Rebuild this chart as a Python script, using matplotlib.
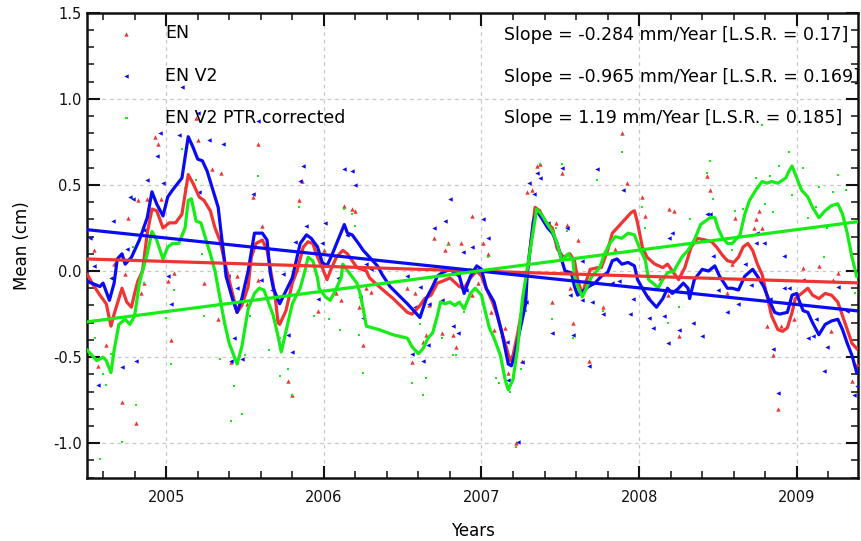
import matplotlib
matplotlib.use('Agg')
import matplotlib.pyplot as plt
from matplotlib.ticker import MultipleLocator, FormatStrFormatter

plt.rcParams['font.family'] = ['DejaVu Sans']
plt.rcParams['axes.unicode_minus'] = False

RED = '#f03434'
BLUE = '#0a0af5'
GREEN = '#16ec16'

series_names = ['EN', 'EN V2', 'EN V2 PTR corrected']
slopes_mm = [-0.284, -0.965, 1.19]
lsr = ['0.17', '0.169', '0.185']
trend_start = [0.07, 0.24, -0.295]   # trend value (cm) at the left edge
x_limits = [2004.5, 2009.39]

# ---------------- scatter points ----------------
en_x = [2004.54, 2004.57, 2004.62, 2004.67, 2004.72, 2004.74, 2004.76, 2004.81, 2004.82, 2004.84,
        2004.86, 2004.88, 2004.93, 2004.95, 2004.97, 2005.01, 2005.03, 2005.05, 2005.19, 2005.20,
        2005.24, 2005.29, 2005.33, 2005.35, 2005.41, 2005.45, 2005.51, 2005.55, 2005.58, 2005.58,
        2005.61, 2005.70, 2005.77, 2005.80, 2005.84, 2005.86, 2005.96, 2006.00, 2006.08, 2006.11,
        2006.13, 2006.18, 2006.20, 2006.22, 2006.25, 2006.27, 2006.30, 2006.53, 2006.56, 2006.58,
        2006.63, 2006.65, 2006.67, 2006.70, 2006.75, 2006.77, 2006.79, 2006.82, 2006.84, 2006.87,
        2006.94, 2006.94, 2006.98, 2007.01, 2007.04, 2007.06, 2007.08, 2007.13, 2007.15, 2007.17,
        2007.22, 2007.26, 2007.27, 2007.29, 2007.32, 2007.35, 2007.37, 2007.45, 2007.47, 2007.51,
        2007.54, 2007.56, 2007.58, 2007.61, 2007.68, 2007.77, 2007.85, 2007.89, 2007.92, 2008.02,
        2008.04, 2008.06, 2008.13, 2008.18, 2008.19, 2008.22, 2008.25, 2008.43, 2008.45, 2008.56,
        2008.59, 2008.61, 2008.73, 2008.74, 2008.76, 2008.78, 2008.81, 2008.85, 2008.88, 2008.90,
        2008.98, 2009.04, 2009.14, 2009.22, 2009.23, 2009.26, 2009.35, 2009.38]
en_y = [0.12, -0.55, -0.43, 0.04, -0.76, -0.02, 0.31, -0.88, 0.41, -0.13,
        -0.07, 0.42, 0.78, 0.74, 0.42, -0.06, -0.40, -0.01, 0.89, 0.76,
        -0.07, 0.59, -0.28, 0.57, -0.53, -0.03, -0.19, 0.43, 0.74, -0.05,
        0.26, -0.27, -0.64, -0.72, 0.41, 0.52, -0.23, 0.12, -0.13, -0.17,
        0.38, 0.36, 0.35, -0.21, -0.43, -0.10, -0.12, -0.10, -0.53, -0.13,
        -0.41, -0.37, -0.20, 0.19, -0.36, 0.12, 0.16, -0.37, -0.44, 0.16,
        0.32, -0.14, -0.07, 0.16, 0.10, -0.24, -0.34, -0.37, -0.33, -0.59,
        -1.00, -0.52, -0.21, 0.46, 0.47, 0.61, 0.62, -0.18, 0.28, 0.57,
        0.27, -0.10, -0.30, 0.18, -0.52, -0.21, 0.13, 0.80, 0.51, 0.43,
        0.32, -0.15, -0.04, -0.14, 0.36, 0.35, -0.38, 0.55, 0.47, -0.13,
        0.04, 0.31, 0.25, 0.30, 0.35, 0.25, -0.32, -0.49, -0.80, -0.32,
        -0.28, 0.02, 0.03, -0.35, -0.05, -0.01, -0.64, -0.54]

v2_x = [2004.52, 2004.54, 2004.57, 2004.65, 2004.66, 2004.72, 2004.75, 2004.77, 2004.79, 2004.81,
        2004.86, 2004.88, 2004.94, 2004.96, 2004.98, 2005.01, 2005.03, 2005.08, 2005.10, 2005.20,
        2005.21, 2005.27, 2005.36, 2005.39, 2005.41, 2005.43, 2005.45, 2005.48, 2005.55, 2005.58,
        2005.60, 2005.67, 2005.74, 2005.77, 2005.80, 2005.82, 2005.85, 2005.87, 2005.89, 2005.96,
        2005.99, 2006.01, 2006.09, 2006.13, 2006.15, 2006.18, 2006.20, 2006.23, 2006.25, 2006.27,
        2006.30, 2006.53, 2006.56, 2006.58, 2006.61, 2006.63, 2006.66, 2006.67, 2006.70, 2006.75,
        2006.77, 2006.80, 2006.82, 2006.85, 2006.88, 2006.90, 2006.94, 2007.01, 2007.04, 2007.16,
        2007.17, 2007.23, 2007.26, 2007.28, 2007.30, 2007.33, 2007.35, 2007.37, 2007.42, 2007.45,
        2007.51, 2007.54, 2007.56, 2007.58, 2007.64, 2007.64, 2007.68, 2007.70, 2007.73, 2007.77,
        2007.83, 2007.87, 2007.90, 2007.94, 2007.96, 2008.06, 2008.09, 2008.16, 2008.18, 2008.19,
        2008.21, 2008.25, 2008.34, 2008.40, 2008.43, 2008.45, 2008.47, 2008.50, 2008.56, 2008.63,
        2008.67, 2008.71, 2008.74, 2008.75, 2008.79, 2008.83, 2008.85, 2008.88, 2008.92, 2008.92,
        2008.95, 2009.04, 2009.07, 2009.10, 2009.12, 2009.17, 2009.19, 2009.26, 2009.32, 2009.36,
        2009.38]
v2_y = [0.19, 0.03, -0.66, -0.04, 0.29, -0.56, 0.13, 0.43, 0.42, -0.52,
        0.24, 0.53, 0.67, 0.80, 0.51, -0.03, -0.19, 0.79, 1.07, 0.92,
        0.46, 0.76, 0.74, -0.03, -0.52, -0.39, -0.10, -0.51, 0.45, 0.87,
        -0.05, -0.11, -0.02, -0.37, -0.47, 0.17, 0.52, 0.61, 0.26, -0.16,
        0.16, 0.28, -0.04, 0.59, 0.21, 0.58, 0.50, -0.15, -0.27, 0.04,
        0.01, -0.03, -0.48, -0.21, -0.09, -0.52, -0.43, -0.19, 0.25, -0.17,
        0.29, 0.42, -0.32, -0.36, 0.11, -0.11, 0.14, 0.30, 0.19, -0.41,
        -0.63, -0.99, -0.53, -0.18, 0.51, 0.45, 0.57, 0.54, 0.28, -0.36,
        0.60, 0.25, -0.14, -0.37, 0.06, -0.17, -0.55, -0.18, 0.59, -0.25,
        -0.07, -0.06, 0.47, -0.25, -0.16, -0.27, -0.33, -0.26, -0.42, 0.19,
        0.22, -0.34, -0.30, -0.38, 0.33, 0.33, 0.09, -0.11, -0.24, -0.19,
        0.04, -0.08, 0.16, 0.22, 0.16, -0.16, -0.45, -0.71, 0.09, -0.10,
        -0.10, -0.05, -0.39, -0.38, -0.28, -0.58, -0.44, -0.09, -0.23, -0.72,
        -0.67]

ptr_x = [2004.55, 2004.58, 2004.60, 2004.62, 2004.65, 2004.72, 2004.75, 2004.79, 2004.81, 2004.86,
         2004.89, 2005.00, 2005.03, 2005.05, 2005.10, 2005.12, 2005.19, 2005.23, 2005.24, 2005.34,
         2005.41, 2005.43, 2005.48, 2005.50, 2005.53, 2005.58, 2005.65, 2005.68, 2005.72, 2005.72,
         2005.77, 2005.80, 2005.84, 2005.94, 2006.03, 2006.10, 2006.13, 2006.18, 2006.20, 2006.22,
         2006.25, 2006.56, 2006.61, 2006.63, 2006.65, 2006.75, 2006.79, 2006.82, 2006.84, 2006.89,
         2006.93, 2007.04, 2007.09, 2007.11, 2007.18, 2007.22, 2007.25, 2007.28, 2007.37, 2007.45,
         2007.47, 2007.51, 2007.54, 2007.58, 2007.73, 2007.77, 2007.89, 2008.02, 2008.04, 2008.18,
         2008.25, 2008.32, 2008.43, 2008.45, 2008.47, 2008.59, 2008.61, 2008.66, 2008.74, 2008.78,
         2008.80, 2008.83, 2008.85, 2008.89, 2008.95, 2008.97, 2009.04, 2009.07, 2009.12, 2009.14,
         2009.17, 2009.19, 2009.23, 2009.26, 2009.31, 2009.37]
ptr_y = [-0.39, -1.09, -0.60, -0.66, -0.48, -0.99, 0.89, 0.14, -0.78, -0.07,
         0.31, -0.27, -0.54, -0.11, 0.71, 0.48, 0.53, 0.10, -0.26, -0.51,
         -0.87, -0.67, -0.83, -0.49, -0.26, 0.55, -0.46, -0.27, -0.39, -0.61,
         -0.57, -0.72, 0.37, -0.26, -0.28, -0.34, 0.36, 0.33, 0.26, -0.37,
         -0.59, -0.65, -0.31, -0.72, -0.62, -0.39, 0.15, -0.49, -0.49, -0.24,
         0.01, 0.08, -0.62, -0.65, -0.70, -1.02, -0.57, -0.23, 0.62, -0.28,
         0.25, 0.62, 0.23, -0.39, 0.53, -0.23, 0.69, 0.37, 0.25, -0.30,
         -0.21, 0.30, 0.57, 0.64, 0.42, 0.12, 0.35, 0.36, 0.54, 0.85,
         0.39, 0.55, 0.34, 0.61, 0.69, 0.44, 0.60, 0.31, 0.37, 0.49,
         0.08, 0.25, 0.46, 0.56, 0.47, -0.13]

# ---------------- smoothed curves ----------------
en_s_x = [2004.50, 2004.53, 2004.58, 2004.62, 2004.65, 2004.67, 2004.70, 2004.72, 2004.75, 2004.78,
          2004.80, 2004.82, 2004.85, 2004.88, 2004.91, 2004.94, 2004.98, 2005.02, 2005.06, 2005.10,
          2005.13, 2005.14, 2005.17, 2005.21, 2005.24, 2005.28, 2005.31, 2005.34, 2005.36, 2005.38,
          2005.42, 2005.45, 2005.48, 2005.52, 2005.54, 2005.57, 2005.61, 2005.64, 2005.66, 2005.69,
          2005.71, 2005.72, 2005.76, 2005.80, 2005.83, 2005.87, 2005.90, 2005.93, 2005.96, 2005.99,
          2006.02, 2006.05, 2006.08, 2006.12, 2006.15, 2006.18, 2006.21, 2006.27, 2006.29, 2006.35,
          2006.44, 2006.53, 2006.56, 2006.61, 2006.64, 2006.68, 2006.72, 2006.75, 2006.80, 2006.86,
          2006.89, 2006.93, 2006.97, 2007.00, 2007.03, 2007.07, 2007.10, 2007.13, 2007.16, 2007.18,
          2007.20, 2007.23, 2007.27, 2007.29, 2007.34, 2007.37, 2007.40, 2007.45, 2007.48, 2007.52,
          2007.56, 2007.59, 2007.61, 2007.64, 2007.66, 2007.69, 2007.74, 2007.76, 2007.80, 2007.83,
          2007.86, 2007.92, 2007.95, 2007.97, 2007.99, 2008.02, 2008.05, 2008.10, 2008.15, 2008.18,
          2008.25, 2008.29, 2008.33, 2008.37, 2008.42, 2008.46, 2008.49, 2008.53, 2008.56, 2008.60,
          2008.63, 2008.66, 2008.69, 2008.72, 2008.75, 2008.78, 2008.81, 2008.84, 2008.88, 2008.91,
          2008.94, 2008.97, 2008.99, 2009.03, 2009.07, 2009.10, 2009.14, 2009.18, 2009.22, 2009.26,
          2009.29, 2009.32, 2009.35, 2009.38]
en_s_y = [-0.02, -0.07, -0.14, -0.19, -0.32, -0.25, -0.16, -0.10, -0.18, -0.21,
          -0.13, -0.06, 0.00, 0.22, 0.36, 0.35, 0.25, 0.28, 0.28, 0.33,
          0.50, 0.56, 0.51, 0.43, 0.41, 0.35, 0.25, 0.18, 0.10, 0.02,
          -0.13, -0.24, -0.20, -0.09, 0.08, 0.16, 0.18, 0.12, 0.02, -0.14,
          -0.30, -0.31, -0.23, -0.07, 0.00, 0.14, 0.17, 0.16, 0.08, 0.02,
          -0.05, 0.02, 0.08, 0.12, 0.10, 0.06, 0.02, 0.00, -0.04, -0.09,
          -0.16, -0.24, -0.25, -0.20, -0.16, -0.14, -0.07, -0.06, -0.04, -0.09,
          -0.10, -0.04, 0.00, -0.03, -0.10, -0.18, -0.26, -0.36, -0.45, -0.52,
          -0.49, -0.36, -0.16, 0.00, 0.37, 0.35, 0.29, 0.25, 0.13, 0.08,
          0.10, 0.06, -0.05, -0.14, -0.07, 0.01, 0.02, 0.02, 0.12, 0.22,
          0.25, 0.31, 0.34, 0.35, 0.28, 0.14, 0.08, 0.04, 0.02, 0.04,
          -0.05, 0.02, 0.14, 0.19, 0.18, 0.17, 0.14, 0.09, 0.06, 0.05,
          0.08, 0.14, 0.16, 0.12, 0.04, -0.02, -0.14, -0.26, -0.34, -0.35,
          -0.33, -0.24, -0.16, -0.13, -0.10, -0.14, -0.16, -0.13, -0.14, -0.18,
          -0.26, -0.34, -0.42, -0.45]

v2_s_x = [2004.50, 2004.58, 2004.60, 2004.64, 2004.67, 2004.69, 2004.72, 2004.74, 2004.78, 2004.81,
          2004.83, 2004.88, 2004.91, 2004.94, 2004.98, 2005.01, 2005.04, 2005.10, 2005.13, 2005.14,
          2005.17, 2005.20, 2005.23, 2005.26, 2005.29, 2005.33, 2005.35, 2005.37, 2005.38, 2005.42,
          2005.45, 2005.48, 2005.52, 2005.56, 2005.61, 2005.64, 2005.66, 2005.68, 2005.72, 2005.80,
          2005.85, 2005.89, 2005.92, 2005.96, 2005.99, 2006.02, 2006.05, 2006.09, 2006.13, 2006.15,
          2006.18, 2006.22, 2006.25, 2006.29, 2006.34, 2006.37, 2006.42, 2006.53, 2006.61, 2006.65,
          2006.69, 2006.72, 2006.75, 2006.80, 2006.86, 2006.89, 2006.93, 2006.97, 2007.00, 2007.03,
          2007.08, 2007.13, 2007.17, 2007.19, 2007.21, 2007.24, 2007.28, 2007.29, 2007.33, 2007.35,
          2007.38, 2007.42, 2007.45, 2007.48, 2007.51, 2007.53, 2007.57, 2007.59, 2007.61, 2007.68,
          2007.72, 2007.76, 2007.80, 2007.83, 2007.86, 2007.89, 2007.93, 2007.97, 2007.99, 2008.02,
          2008.06, 2008.11, 2008.15, 2008.18, 2008.21, 2008.25, 2008.28, 2008.31, 2008.32, 2008.35,
          2008.40, 2008.44, 2008.48, 2008.51, 2008.56, 2008.59, 2008.63, 2008.67, 2008.72, 2008.75,
          2008.79, 2008.82, 2008.86, 2008.89, 2008.94, 2008.97, 2009.00, 2009.01, 2009.04, 2009.07,
          2009.10, 2009.14, 2009.18, 2009.22, 2009.26, 2009.29, 2009.32, 2009.35, 2009.38]
v2_s_y = [-0.06, -0.09, -0.07, -0.17, -0.07, 0.07, 0.10, 0.04, 0.08, 0.14,
          0.18, 0.31, 0.46, 0.39, 0.32, 0.43, 0.47, 0.54, 0.72, 0.78,
          0.72, 0.65, 0.64, 0.58, 0.49, 0.37, 0.21, 0.06, -0.03, -0.16,
          -0.24, -0.16, 0.00, 0.22, 0.22, 0.18, -0.01, -0.10, -0.19, -0.04,
          0.16, 0.21, 0.19, 0.14, 0.05, 0.03, 0.09, 0.18, 0.27, 0.22,
          0.21, 0.16, 0.12, 0.08, 0.03, -0.02, -0.09, -0.19, -0.27, -0.16,
          -0.09, -0.03, -0.01, 0.01, -0.03, -0.13, -0.03, 0.03, 0.01, -0.10,
          -0.18, -0.36, -0.54, -0.55, -0.49, -0.36, -0.19, -0.02, 0.29, 0.35,
          0.31, 0.25, 0.22, 0.16, 0.06, 0.00, -0.01, -0.09, -0.14, -0.09,
          -0.07, -0.03, -0.01, 0.06, 0.07, 0.04, 0.05, 0.03, -0.05, -0.10,
          -0.16, -0.21, -0.16, -0.10, -0.13, -0.10, -0.07, -0.10, -0.16, -0.05,
          0.01, 0.00, 0.03, -0.03, -0.10, -0.10, -0.11, -0.03, 0.01, -0.03,
          -0.09, -0.16, -0.24, -0.25, -0.24, -0.14, -0.13, -0.16, -0.23, -0.24,
          -0.30, -0.37, -0.31, -0.29, -0.28, -0.34, -0.42, -0.49, -0.59]

ptr_s_x = [2004.50, 2004.53, 2004.56, 2004.60, 2004.62, 2004.65, 2004.67, 2004.70, 2004.74, 2004.77,
           2004.80, 2004.83, 2004.85, 2004.88, 2004.91, 2004.94, 2004.98, 2005.01, 2005.04, 2005.08,
           2005.12, 2005.14, 2005.16, 2005.19, 2005.22, 2005.24, 2005.28, 2005.31, 2005.34, 2005.37,
           2005.40, 2005.45, 2005.48, 2005.52, 2005.56, 2005.59, 2005.62, 2005.64, 2005.68, 2005.71,
           2005.73, 2005.76, 2005.80, 2005.85, 2005.88, 2005.90, 2005.93, 2005.96, 2005.97, 2006.01,
           2006.04, 2006.07, 2006.11, 2006.12, 2006.16, 2006.21, 2006.23, 2006.25, 2006.27, 2006.35,
           2006.44, 2006.53, 2006.56, 2006.60, 2006.63, 2006.66, 2006.69, 2006.72, 2006.74, 2006.77,
           2006.80, 2006.83, 2006.86, 2006.89, 2006.93, 2006.96, 2007.00, 2007.02, 2007.05, 2007.08,
           2007.12, 2007.15, 2007.17, 2007.20, 2007.23, 2007.26, 2007.29, 2007.35, 2007.38, 2007.42,
           2007.45, 2007.48, 2007.51, 2007.53, 2007.55, 2007.58, 2007.59, 2007.61, 2007.64, 2007.67,
           2007.70, 2007.75, 2007.78, 2007.82, 2007.85, 2007.89, 2007.93, 2007.97, 2008.00, 2008.04,
           2008.06, 2008.10, 2008.12, 2008.15, 2008.18, 2008.22, 2008.27, 2008.31, 2008.35, 2008.39,
           2008.42, 2008.45, 2008.48, 2008.50, 2008.53, 2008.56, 2008.59, 2008.62, 2008.64, 2008.67,
           2008.70, 2008.74, 2008.78, 2008.81, 2008.84, 2008.88, 2008.93, 2008.95, 2008.97, 2009.00,
           2009.03, 2009.07, 2009.10, 2009.14, 2009.18, 2009.22, 2009.26, 2009.29, 2009.32, 2009.35,
           2009.38]
ptr_s_y = [-0.46, -0.49, -0.52, -0.50, -0.52, -0.59, -0.46, -0.31, -0.28, -0.31,
           -0.26, -0.07, 0.00, 0.10, 0.23, 0.18, 0.07, 0.14, 0.16, 0.16,
           0.25, 0.41, 0.42, 0.29, 0.28, 0.22, 0.10, 0.00, -0.15, -0.30,
           -0.42, -0.54, -0.44, -0.22, -0.13, -0.10, -0.11, -0.16, -0.26, -0.38,
           -0.47, -0.35, -0.19, -0.10, 0.00, 0.08, 0.06, -0.04, -0.10, -0.15,
           -0.17, -0.12, -0.04, 0.04, -0.01, -0.07, -0.13, -0.22, -0.32, -0.34,
           -0.37, -0.39, -0.44, -0.48, -0.45, -0.39, -0.36, -0.26, -0.18, -0.19,
           -0.18, -0.20, -0.18, -0.22, -0.13, -0.10, -0.14, -0.22, -0.33, -0.39,
           -0.49, -0.63, -0.69, -0.63, -0.44, -0.16, 0.01, 0.36, 0.33, 0.27,
           0.23, 0.16, 0.06, 0.08, 0.10, 0.06, -0.03, -0.09, -0.15, -0.09,
           -0.03, 0.02, 0.10, 0.17, 0.20, 0.19, 0.22, 0.21, 0.14, 0.06,
           -0.05, -0.08, -0.10, -0.05, -0.01, 0.00, 0.08, 0.12, 0.18, 0.27,
           0.29, 0.31, 0.31, 0.25, 0.19, 0.16, 0.16, 0.19, 0.21, 0.33,
           0.41, 0.47, 0.52, 0.51, 0.52, 0.51, 0.54, 0.58, 0.61, 0.54,
           0.47, 0.43, 0.37, 0.31, 0.35, 0.38, 0.39, 0.33, 0.22, 0.08,
           -0.03]

# ---------------- figure ----------------
fig = plt.figure(figsize=(8.62, 5.41), dpi=100)
ax = fig.add_axes([0.1013, 0.1170, 0.8944, 0.8595])

h1 = ax.scatter(en_x, en_y, marker='^', s=10, color=RED, linewidths=0, zorder=3)
h2 = ax.scatter(v2_x, v2_y, marker='<', s=10, color=BLUE, linewidths=0, zorder=3)
h3 = ax.scatter(ptr_x, ptr_y, marker='s', s=2.5, color=GREEN, linewidths=0, zorder=3)

lw = 2.3
ax.plot(en_s_x, en_s_y, color=RED, lw=lw, zorder=4)
ax.plot(v2_s_x, v2_s_y, color=BLUE, lw=lw, zorder=4)
ax.plot(ptr_s_x, ptr_s_y, color=GREEN, lw=lw, zorder=4)

for start, slope, col in zip(trend_start, slopes_mm, [RED, BLUE, GREEN]):
    ys = [start, start + slope / 10.0 * (x_limits[1] - x_limits[0])]
    ax.plot(x_limits, ys, color=col, lw=lw, zorder=5)

ax.set_xlim(*x_limits)
ax.set_ylim(-1.2, 1.5)

ax.xaxis.set_major_locator(MultipleLocator(1))
ax.xaxis.set_minor_locator(MultipleLocator(0.2))
ax.yaxis.set_major_locator(MultipleLocator(0.5))
ax.yaxis.set_minor_locator(MultipleLocator(0.1))
ax.xaxis.set_major_formatter(FormatStrFormatter('%d'))
ax.yaxis.set_major_formatter(FormatStrFormatter('%.1f'))

ax.tick_params(which='both', direction='in', top=True, right=True, colors='#111111')
ax.tick_params(which='major', length=9, width=1.5, labelsize=10.5)
ax.tick_params(which='minor', length=5, width=1.1)
ax.tick_params(axis='x', which='major', pad=9)
ax.tick_params(axis='y', which='major', pad=4)
for sp in ax.spines.values():
    sp.set_linewidth(1.8)
    sp.set_color('#111111')

ax.grid(True, which='major', color='#c8c8c8', linestyle=(0, (3, 3)), linewidth=0.9, zorder=0)
ax.set_axisbelow(True)

ax.set_xlabel('Years', fontsize=12, labelpad=12)
ax.set_ylabel('Mean (cm)', fontsize=12, labelpad=16)

leg = ax.legend([h1, h2, h3], series_names, loc='upper left', bbox_to_anchor=(0.039, 0.975),
                frameon=False, fontsize=12.5, scatterpoints=1, markerscale=1.0,
                handlelength=1.0, handletextpad=1.75, labelspacing=1.4,
                borderaxespad=0, borderpad=0)

text_y = [0.952, 0.862, 0.7735]
for ty, slope, r in zip(text_y, slopes_mm, lsr):
    ax.text(0.540, ty, 'Slope = %s mm/Year [L.S.R. = %s]' % (('%g' % slope), r),
            transform=ax.transAxes, fontsize=12.5, va='center', ha='left', clip_on=True, zorder=6)

fig.savefig('out.png', dpi=100)
